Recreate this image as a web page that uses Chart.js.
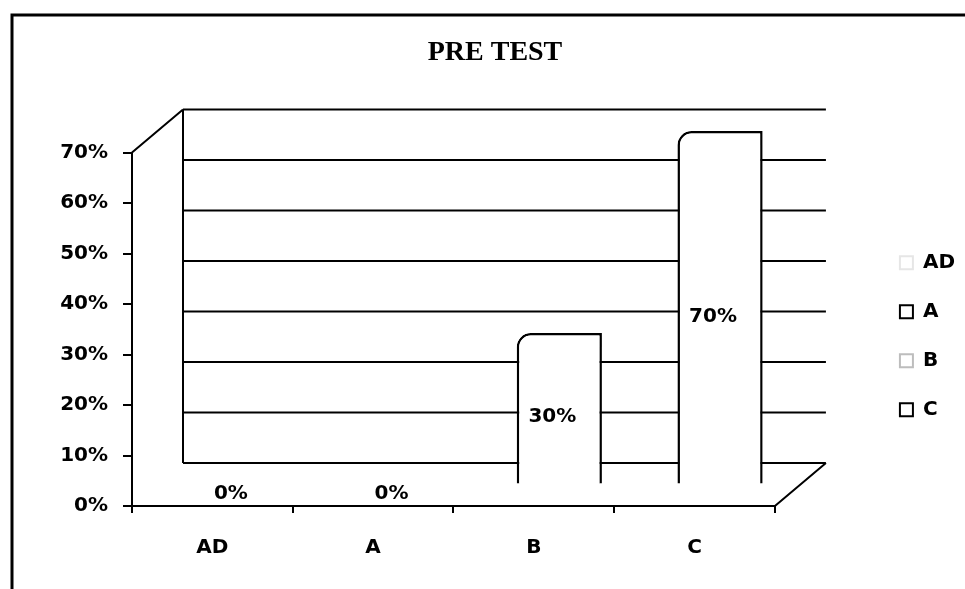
<!DOCTYPE html>
<html>
<head>
<meta charset="utf-8">
<title>PRE TEST</title>
<script src="https://cdn.jsdelivr.net/npm/chart.js@4.4.1/dist/chart.umd.min.js"></script>
<style>
  body { margin: 0; background: #fff; }
  #wrap { width: 965px; height: 589px; }
</style>
</head>
<body>
<div id="wrap"><canvas id="myChart" width="965" height="589"></canvas></div>
<script>
// data
const categories = ['AD', 'A', 'B', 'C'];
const values = [0, 0, 30, 70];          // percent
const yTicks = [0, 10, 20, 30, 40, 50, 60, 70];

// legend marker outline per category (the scan shows AD and B very faint)
const legendStroke = ['#e6e6e6', '#000', '#bdbdbd', '#000'];

// fake 3d depth of the walls
const DX = 51;
const DY = -43;

const labelFont = { family: 'DejaVu Sans', size: 20, weight: 'bold' };

// back wall, side wall and floor + shifting bars half way back
const box3d = {
    id: 'box3d',
    beforeDraw(chart) {
        const c = chart.ctx;
        c.save();
        c.fillStyle = '#fff';
        c.fillRect(0, 0, chart.width, chart.height);
        // outer frame (cut at right and bottom in the scan)
        c.strokeStyle = '#000';
        c.lineWidth = 3;
        c.beginPath();
        c.moveTo(12, chart.height);
        c.lineTo(12, 15);
        c.lineTo(chart.width, 15);
        c.stroke();
        c.restore();
    },
    beforeDatasetsDraw(chart) {
        const c = chart.ctx;
        const a = chart.chartArea;
        const y = chart.scales.y;
        c.save();
        c.strokeStyle = '#000';
        c.lineWidth = 2;
        c.beginPath();
        // gridlines on the back wall
        yTicks.forEach(v => {
            const py = y.getPixelForValue(v) + DY;
            c.moveTo(a.left + DX, py);
            c.lineTo(a.right + DX, py);
        });
        // back wall left edge
        c.moveTo(a.left + DX, a.top + DY);
        c.lineTo(a.left + DX, a.bottom + DY);
        // side wall top edge
        c.moveTo(a.left, a.top);
        c.lineTo(a.left + DX, a.top + DY);
        // floor right edge
        c.moveTo(a.right, a.bottom);
        c.lineTo(a.right + DX, a.bottom + DY);
        c.stroke();
        c.restore();

        // bars sit half way into the box
        c.save();
        c.translate(DX / 2, DY / 2);
    },
    afterDatasetsDraw(chart) {
        const c = chart.ctx;
        c.restore();

        // value labels
        const meta = chart.getDatasetMeta(0);
        c.save();
        c.fillStyle = '#000';
        c.font = 'bold 20px "DejaVu Sans"';
        c.textAlign = 'center';
        c.textBaseline = 'middle';
        meta.data.forEach((bar, i) => {
            const px = bar.x + DX / 2 - 7;
            const py = (bar.y + bar.base) / 2 + DY / 2 + 9;
            c.fillText(values[i] + '%', px, py);
        });
        c.restore();
    }
};

const ctx = document.getElementById('myChart');

new Chart(ctx, {
    type: 'bar',
    data: {
        labels: categories,
        datasets: [{
            label: 'PRE TEST',
            data: values,
            backgroundColor: '#fff',
            borderColor: '#000',
            borderWidth: 2.5,
            borderRadius: { topLeft: 14, topRight: 0, bottomLeft: 0, bottomRight: 0 },
            categoryPercentage: 1,
            barPercentage: 0.53
        }]
    },
    options: {
        responsive: false,
        animation: false,
        devicePixelRatio: 1,
        layout: {
            padding: { left: 25, right: 0, top: 16, bottom: 6 }
        },
        plugins: {
            title: {
                display: true,
                text: 'PRE TEST',
                color: '#000',
                font: { family: 'Liberation Serif', size: 28, weight: 'bold' },
                padding: { top: 20, bottom: 83 }
            },
            legend: {
                position: 'right',
                fullSize: false,
                // empty title, just nudges the items down a little
                title: {
                    display: true,
                    text: '',
                    color: '#000',
                    font: { size: 10 },
                    padding: 1
                },
                labels: {
                    color: '#000',
                    font: labelFont,
                    boxWidth: 13,
                    boxHeight: 13,
                    padding: 29,
                    generateLabels: () => categories.map((cat, i) => ({
                        text: cat,
                        fontColor: '#000',
                        fillStyle: '#fff',
                        strokeStyle: legendStroke[i],
                        lineWidth: 2,
                        hidden: false,
                        index: i
                    }))
                },
                onClick: () => {}
            },
            tooltip: { enabled: false }
        },
        scales: {
            x: {
                grid: {
                    display: true,
                    drawOnChartArea: false,
                    tickLength: 7,
                    color: '#000',
                    lineWidth: 2
                },
                border: { display: true, color: '#000', width: 2 },
                ticks: { color: '#000', font: labelFont, padding: 23 }
            },
            y: {
                min: 0,
                max: 70,
                afterFit: s => { s.width = 107; },
                grid: {
                    display: true,
                    drawOnChartArea: false,
                    tickLength: 9,
                    color: '#000',
                    lineWidth: 2
                },
                border: { display: true, color: '#000', width: 2 },
                ticks: {
                    stepSize: 10,
                    color: '#000',
                    font: labelFont,
                    padding: 15,
                    callback: v => v + '%'
                }
            },
            // empty axis only to keep room between the box and the legend
            yR: {
                position: 'right',
                display: true,
                afterFit: s => { s.width = 96; },
                grid: { display: false },
                border: { display: false },
                ticks: { display: false }
            }
        }
    },
    plugins: [box3d]
});
</script>
</body>
</html>
